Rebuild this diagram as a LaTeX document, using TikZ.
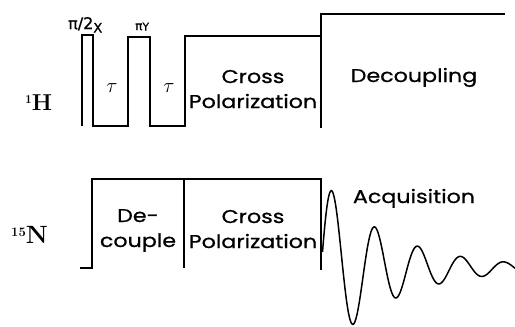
\documentclass[tikz,border=0pt]{standalone}
\usepackage{fontspec}
\setmainfont{Poppins}[FakeStretch=1.2, FakeBold=0.8]
\newfontfamily\gk{DejaVu Sans}[FakeBold=0.8]
\newfontfamily\serifb{Latin Modern Roman}
\begin{document}
\begin{tikzpicture}[x=1pt,y=-1pt,
  wave/.style={line width=1.6pt, line join=miter},
  lbl/.style={font=\fontsize{18.5}{25}\selectfont, align=center, inner sep=0pt, anchor=base},
  nuc/.style={font=\serifb\bfseries\fontsize{23}{23}\selectfont, inner sep=0pt, anchor=base west},
  tau/.style={font=\fontsize{21}{21}\selectfont, inner sep=0pt}]
\useasboundingbox (0,0) rectangle (515,327);
% 1H channel
\coordinate (h0) at (82,126);
\coordinate (h1) at (82,35);
\coordinate (h2) at (93,35);
\coordinate (h3) at (93,126);
\coordinate (h4) at (128,126);
\coordinate (h5) at (128,37);
\coordinate (h6) at (150,37);
\coordinate (h7) at (150,126);
\coordinate (h8) at (185,126);
\coordinate (h9) at (185,36);
\coordinate (h10) at (321,36);
\coordinate (h11) at (321,128);
\coordinate (h12) at (321,14);
\coordinate (h13) at (505,14);
\draw[wave] (h0) -- (h1) -- (h2) -- (h3) -- (h4) -- (h5) -- (h6) -- (h7) -- (h8) -- (h9) -- (h10);
\draw[wave] (h11) -- (h12) -- (h13);
% 15N channel
\coordinate (n0) at (80,268);
\coordinate (n1) at (92,268);
\coordinate (n2) at (92,179);
\coordinate (n3) at (321,179);
\coordinate (n4) at (321,270);
\coordinate (n5) at (184,179);
\coordinate (n6) at (184,268);
\draw[wave] (n0) -- (n1) -- (n2) -- (n3) -- (n4);
\draw[wave] (n5) -- (n6);
\draw[line width=1.5pt] plot[smooth, domain=-9.5:183, samples=220] ({\x+332}, {268 - 77*exp(-\x/68)*cos(8.3721*\x)});
% labels
\node[nuc] (H) at (25,110) {\raisebox{0.6ex}{\fontsize{12}{12}\selectfont 1}H};
\node[nuc, font=\serifb\bfseries\fontsize{25}{25}\selectfont] (N) at (11,243) {\raisebox{0.55ex}{\fontsize{13}{13}\selectfont 15}N};
\node[inner sep=0pt, anchor=base west, font=\gk\fontsize{16}{16}\selectfont] (p2) at (68,29) {π/2\raisebox{-0.4ex}{\fontsize{13}{13}\selectfont X}};
\node[inner sep=0pt, anchor=base west, font=\gk\fontsize{12}{12}\selectfont] (py) at (135,30) {π\raisebox{-0.1ex}{\fontsize{11}{11}\selectfont Y}};
\node[tau] (t1) at (112,88) {$\tau$};
\node[tau] (t2) at (169,88) {$\tau$};
\node[lbl] (cph) at (253,108) {Cross\\Polarization};
\node[lbl] (dec) at (414,82) {Decoupling};
\node[lbl] (decN) at (138,247) {De-\\couple};
\node[lbl] (cpn) at (253,248) {Cross\\Polarization};
\node[lbl] (acq) at (414,203) {Acquisition};
\end{tikzpicture}
\end{document}
